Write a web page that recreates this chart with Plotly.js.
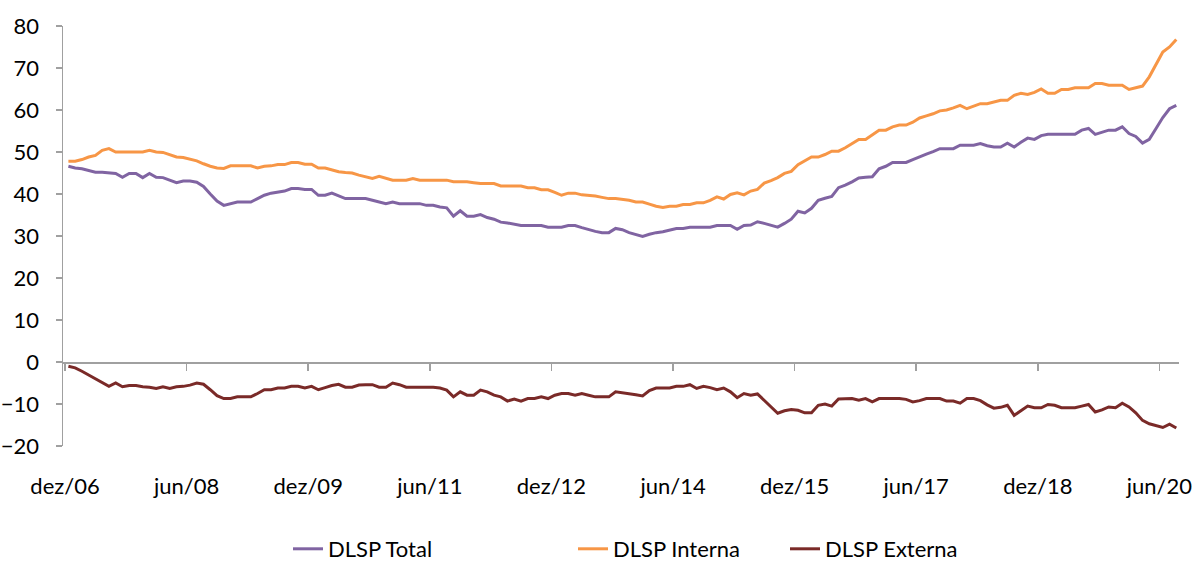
<!DOCTYPE html>
<html>
<head>
<meta charset="utf-8">
<script src="https://cdn.plot.ly/plotly-3.0.1.min.js"></script>
<style>
html,body{margin:0;padding:0;background:#fff;}
#chart{width:1200px;height:563px;}
</style>
</head>
<body>
<div id="chart"></div>
<script>
// Monthly series, dez/2006 .. ago/2020 (% do PIB)
const tickLabels = ['dez/06','jun/08','dez/09','jun/11','dez/12','jun/14','dez/15','jun/17','dez/18','jun/20'];
const tickIndex = [0,18,36,54,72,90,108,126,144,162];

const dlspTotal = [
  46.6,46.2,46.0,45.6,45.2,45.2,45.0,44.9,44.0,44.9,44.9,43.9,44.9,44.0,43.9,43.3,42.7,43.1,43.1,42.8,
  41.8,40.0,38.3,37.3,37.7,38.1,38.1,38.1,38.9,39.7,40.2,40.5,40.7,41.3,41.3,41.1,41.1,39.7,39.7,40.2,39.5,
  38.9,38.9,38.9,38.9,38.5,38.1,37.7,38.1,37.7,37.7,37.7,37.7,37.3,37.3,36.9,36.7,34.7,36.0,34.7,34.7,
  35.1,34.4,34.0,33.3,33.1,32.8,32.5,32.5,32.5,32.5,32.1,32.1,32.1,32.5,32.5,32.0,31.5,31.1,30.8,30.8,
  31.8,31.5,30.8,30.3,29.9,30.4,30.8,31.0,31.4,31.8,31.8,32.1,32.1,32.1,32.1,32.5,32.5,32.5,31.6,32.5,32.6,33.4,33.0,32.5,32.1,
  33.0,34.0,35.9,35.5,36.6,38.5,39.0,39.4,41.5,42.1,42.9,43.8,44.0,44.1,46.0,46.6,47.5,47.5,
  47.5,48.2,48.9,49.5,50.1,50.8,50.8,50.8,51.6,51.6,51.6,52.0,51.5,51.2,51.2,52.1,51.2,52.3,53.3,53.0,53.9,
  54.2,54.2,54.2,54.2,54.2,55.2,55.6,54.2,54.7,55.2,55.2,56.0,54.4,53.7,52.1,53.0,55.6,58.2,60.3,61.1
];
const dlspInterna = [
  47.8,47.8,48.2,48.8,49.2,50.4,50.8,50.0,50.0,50.0,50.0,50.0,50.4,50.0,49.9,49.3,48.8,48.7,48.3,47.9,
  47.2,46.6,46.2,46.1,46.7,46.7,46.7,46.7,46.2,46.6,46.7,47.0,47.0,47.5,47.5,47.1,47.1,46.2,46.2,45.8,45.3,
  45.1,45.0,44.5,44.1,43.7,44.2,43.7,43.3,43.3,43.3,43.7,43.3,43.3,43.3,43.3,43.3,42.9,42.9,42.9,42.7,
  42.5,42.5,42.5,41.9,41.9,41.9,41.9,41.5,41.5,41.0,41.0,40.4,39.7,40.2,40.2,39.8,39.7,39.5,39.2,38.9,38.9,
  38.7,38.5,38.1,38.1,37.6,37.1,36.8,37.1,37.1,37.5,37.5,37.9,37.9,38.5,39.3,38.8,39.9,40.3,39.8,40.7,41.1,
  42.6,43.2,43.9,44.9,45.4,47.0,47.9,48.8,48.8,49.4,50.2,50.2,51.0,52.0,53.0,53.0,54.0,55.2,55.2,56.0,56.4,
  56.4,57.1,58.1,58.6,59.1,59.8,60.0,60.5,61.1,60.3,60.9,61.5,61.5,61.9,62.3,62.3,63.5,64.0,63.7,64.2,65.0,
  64.0,64.0,64.9,64.9,65.3,65.3,65.3,66.3,66.3,65.9,65.9,65.9,64.9,65.3,65.7,67.9,71.0,73.8,75.0,76.8
];
const dlspExterna = [
  -1.0,-1.4,-2.2,-3.1,-4.0,-4.9,-5.8,-5.0,-5.9,-5.6,-5.6,-5.9,-6.0,-6.3,-5.9,-6.3,-5.9,-5.8,-5.5,-5.0,
  -5.3,-6.6,-8.0,-8.7,-8.7,-8.3,-8.3,-8.3,-7.5,-6.6,-6.6,-6.2,-6.2,-5.8,-5.8,-6.2,-5.8,-6.6,-6.1,-5.6,-5.3,
  -6.0,-6.0,-5.5,-5.4,-5.4,-6.0,-6.0,-5.0,-5.4,-6.0,-6.0,-6.0,-6.0,-6.0,-6.2,-6.7,-8.3,-7.1,-7.9,-7.9,
  -6.7,-7.1,-7.9,-8.3,-9.3,-8.8,-9.3,-8.7,-8.7,-8.3,-8.7,-7.9,-7.5,-7.5,-7.9,-7.5,-7.9,-8.3,-8.3,-8.3,-7.1,
  -7.3,-7.5,-7.8,-8.1,-6.8,-6.2,-6.2,-6.2,-5.8,-5.8,-5.4,-6.3,-5.8,-6.1,-6.6,-6.2,-7.1,-8.5,-7.5,-7.9,-7.6,
  -9.2,-10.8,-12.2,-11.6,-11.3,-11.5,-12.1,-12.1,-10.3,-10.0,-10.5,-8.8,-8.7,-8.7,-9.1,-8.7,-9.5,-8.7,-8.7,-8.7,-8.7,
  -8.9,-9.5,-9.2,-8.7,-8.7,-8.7,-9.3,-9.3,-9.8,-8.7,-8.7,-9.2,-10.2,-11.0,-10.8,-10.3,-12.7,-11.5,-10.5,-10.9,-10.9,
  -10.1,-10.3,-10.9,-10.9,-10.9,-10.5,-10.1,-11.9,-11.4,-10.7,-10.9,-9.8,-10.7,-12.1,-13.9,-14.7,-15.1,-15.6,-14.8,-15.7
];
const seriesNames = ['DLSP Total','DLSP Interna','DLSP Externa'];
const seriesColors = ['#8064A2','#F79646','#7A2A28'];

const xIdx = dlspTotal.map((_, i) => i);
const font = 'Lato, "Open Sans", sans-serif';

const data = [dlspTotal, dlspInterna, dlspExterna].map((vals, k) => ({
  type: 'scatter', mode: 'lines',
  x: xIdx, y: vals, name: seriesNames[k],
  line: {color: seriesColors[k], width: 3},
  legend: k === 0 ? 'legend' : ('legend' + (k + 1)),
  hoverinfo: 'y+name'
}));

const legendBase = {
  orientation: 'h', xref: 'container', yref: 'container',
  xanchor: 'left', yanchor: 'middle',
  font: {family: font, size: 22, color: '#000'},
  bgcolor: 'rgba(0,0,0,0)', itemwidth: 30
};
const legY = 1 - 549/563;

const layout = {
  width: 1200, height: 563,
  margin: {l: 63, r: 21, t: 26, b: 117},
  paper_bgcolor: '#fff', plot_bgcolor: '#fff',
  font: {family: font, color: '#000'},
  xaxis: {
    range: [-0.8, 164.4],
    anchor: 'free', position: 0.2,
    tickvals: tickIndex.map(v => v - 0.5),
    ticktext: tickLabels,
    ticks: 'outside', ticklen: 7, tickwidth: 1.5, tickcolor: '#A0A0A0',
    showline: true, linecolor: '#A0A0A0', linewidth: 1.5,
    showgrid: false, zeroline: false,
    ticklabelstandoff: 97,
    tickfont: {family: font, size: 22, color: '#000'}
  },
  yaxis: {
    range: [-20, 80], dtick: 10, tick0: 0,
    ticks: 'outside', ticklen: 6, tickwidth: 1.5, tickcolor: '#A0A0A0',
    showline: true, linecolor: '#A0A0A0', linewidth: 1.5,
    showgrid: false, zeroline: false,
    ticklabelstandoff: 12,
    tickfont: {family: font, size: 22, color: '#000'}
  },
  legend: Object.assign({}, legendBase, {x: 288/1200, y: legY}),
  legend2: Object.assign({}, legendBase, {x: 573/1200, y: legY}),
  legend3: Object.assign({}, legendBase, {x: 785/1200, y: legY}),
  showlegend: true
};

Plotly.newPlot('chart', data, layout, {displayModeBar: false, staticPlot: true});
</script>
</body>
</html>
